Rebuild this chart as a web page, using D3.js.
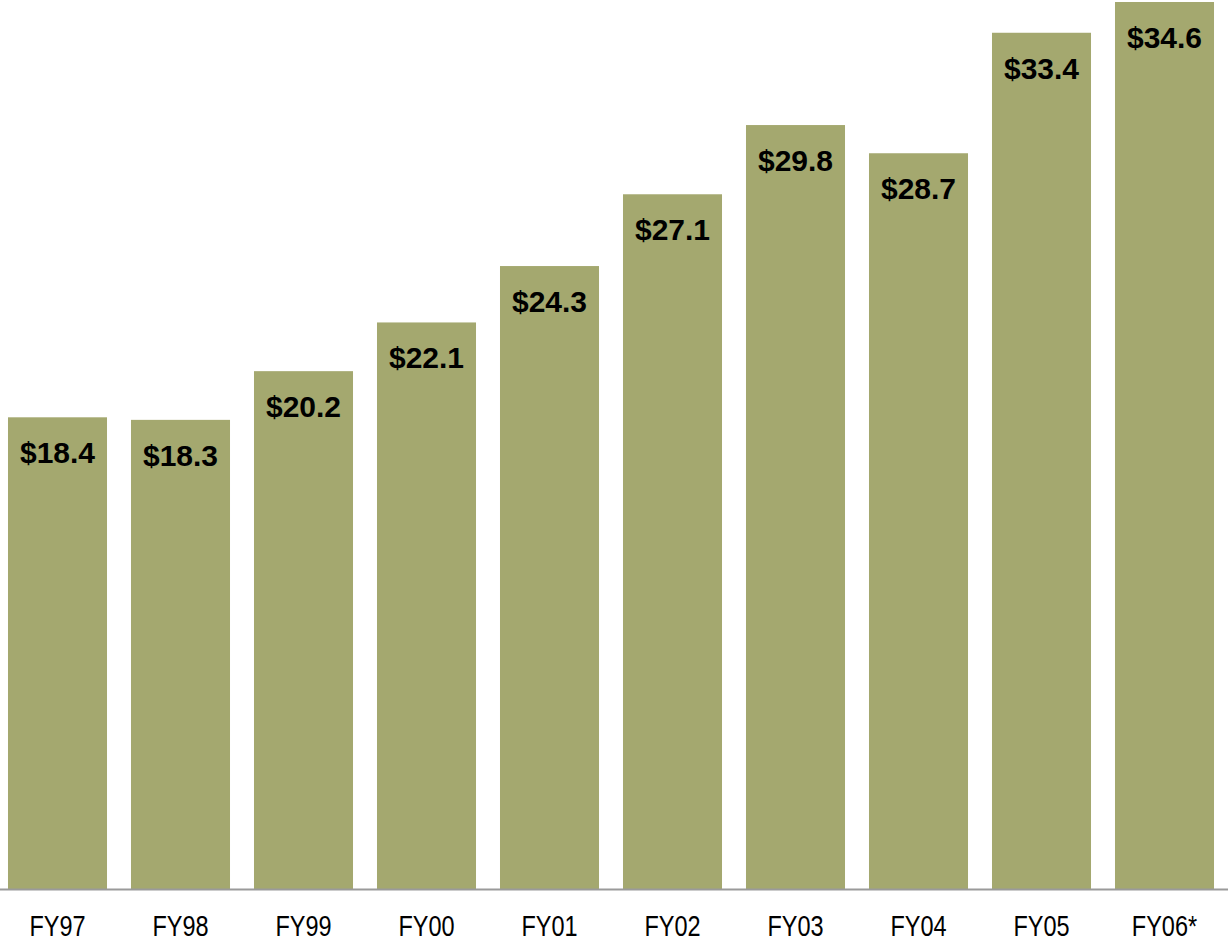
<!DOCTYPE html>
<html>
<head>
<meta charset="utf-8">
<script src="https://d3js.org/d3.v7.min.js"></script>
<style>
  html, body { margin: 0; padding: 0; background: #ffffff; }
  svg { display: block; }
</style>
</head>
<body>
<svg id="chart" width="1228" height="943"></svg>
<script>
// Annual totals by fiscal year (billions of dollars)
const years = ["FY97", "FY98", "FY99", "FY00", "FY01", "FY02", "FY03", "FY04", "FY05", "FY06*"];
const amounts = [18.4, 18.3, 20.2, 22.1, 24.3, 27.1, 29.8, 28.7, 33.4, 34.6];

const width = 1228, height = 943;
const baseY = 889;

const svg = d3.select("#chart");

const x = d3.scaleBand()
  .domain(years)
  .range([-4, 1226])
  .paddingInner(0.195)
  .paddingOuter(0.0975);

const y = d3.scaleLinear()
  .domain([0, 34.6])
  .range([baseY, 2]);

const rows = years.map((yr, i) => ({ year: yr, value: amounts[i] }));

// Bars
svg.append("g")
  .selectAll("rect")
  .data(rows)
  .join("rect")
  .attr("x", d => x(d.year))
  .attr("y", d => y(d.value))
  .attr("width", x.bandwidth())
  .attr("height", d => baseY - y(d.value))
  .attr("fill", "#a4a86f");

// Value labels inside the top of each bar
svg.append("g")
  .selectAll("text")
  .data(rows)
  .join("text")
  .attr("x", d => x(d.year) + x.bandwidth() / 2)
  .attr("y", d => y(d.value) + 46)
  .attr("text-anchor", "middle")
  .attr("font-family", "'Liberation Sans', Arial, sans-serif")
  .attr("font-weight", "bold")
  .attr("font-size", 30)
  .attr("fill", "#000")
  .text(d => "$" + d.value.toFixed(1));

// Category axis (condensed lettering)
const axis = d3.axisBottom(x).tickSize(0).tickPadding(0);
const gAxis = svg.append("g")
  .attr("transform", `translate(0,${baseY})`)
  .call(axis);
gAxis.select(".domain").remove();
gAxis.selectAll("text")
  .attr("y", 47)
  .attr("dy", null)
  .attr("transform", "scale(0.81,1)")
  .attr("font-family", "'Liberation Sans', Arial, sans-serif")
  .attr("font-size", 29)
  .attr("fill", "#000");

// Baseline rule
svg.append("line")
  .attr("x1", 0)
  .attr("x2", width)
  .attr("y1", baseY + 0.5)
  .attr("y2", baseY + 0.5)
  .attr("stroke", "#9a9a9a")
  .attr("stroke-width", 2);
</script>
</body>
</html>
